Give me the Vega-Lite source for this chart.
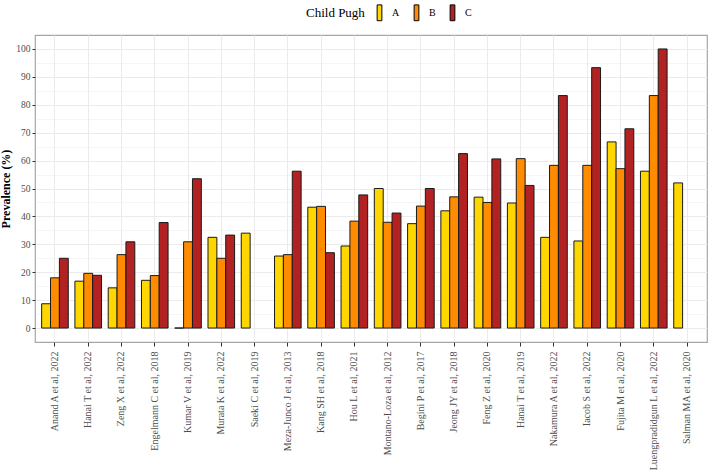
{
  "$schema": "https://vega.github.io/schema/vega-lite/v6.json",
  "width": 672,
  "height": 307,
  "autosize": {"type": "none"},
  "padding": {"left": 35, "top": 35, "right": 1, "bottom": 129},
  "background": "white",
  "config": {
    "font": "Liberation Serif",
    "view": {"stroke": "#A6A6A6", "strokeWidth": 1.2}
  },
  "data": {
    "values": [
      {"study": "Anand A et al, 2022", "grade": "A", "value": 8.7},
      {"study": "Anand A et al, 2022", "grade": "B", "value": 18.0},
      {"study": "Anand A et al, 2022", "grade": "C", "value": 25.0},
      {"study": "Hanai T et al, 2022", "grade": "A", "value": 16.8},
      {"study": "Hanai T et al, 2022", "grade": "B", "value": 19.6},
      {"study": "Hanai T et al, 2022", "grade": "C", "value": 18.9},
      {"study": "Zeng X et al, 2022", "grade": "A", "value": 14.4},
      {"study": "Zeng X et al, 2022", "grade": "B", "value": 26.3},
      {"study": "Zeng X et al, 2022", "grade": "C", "value": 30.9},
      {"study": "Engelmann C et al, 2018", "grade": "A", "value": 17.1},
      {"study": "Engelmann C et al, 2018", "grade": "B", "value": 18.8},
      {"study": "Engelmann C et al, 2018", "grade": "C", "value": 37.8},
      {"study": "Kumar V et al, 2019", "grade": "A", "value": 0},
      {"study": "Kumar V et al, 2019", "grade": "B", "value": 30.9},
      {"study": "Kumar V et al, 2019", "grade": "C", "value": 53.5},
      {"study": "Murata K et al, 2022", "grade": "A", "value": 32.5},
      {"study": "Murata K et al, 2022", "grade": "B", "value": 25.0},
      {"study": "Murata K et al, 2022", "grade": "C", "value": 33.3},
      {"study": "Saeki C et al, 2019", "grade": "A", "value": 34.0},
      {"study": "Meza-Junco J et al, 2013", "grade": "A", "value": 25.8},
      {"study": "Meza-Junco J et al, 2013", "grade": "B", "value": 26.3},
      {"study": "Meza-Junco J et al, 2013", "grade": "C", "value": 56.2},
      {"study": "Kang SH et al, 2018", "grade": "A", "value": 43.3},
      {"study": "Kang SH et al, 2018", "grade": "B", "value": 43.6},
      {"study": "Kang SH et al, 2018", "grade": "C", "value": 27.0},
      {"study": "Hou L et al, 2021", "grade": "A", "value": 29.4},
      {"study": "Hou L et al, 2021", "grade": "B", "value": 38.3},
      {"study": "Hou L et al, 2021", "grade": "C", "value": 47.7},
      {"study": "Montano-Loza et al, 2012", "grade": "A", "value": 50.0},
      {"study": "Montano-Loza et al, 2012", "grade": "B", "value": 37.9},
      {"study": "Montano-Loza et al, 2012", "grade": "C", "value": 41.2},
      {"study": "Begini P et al, 2017", "grade": "A", "value": 37.4},
      {"study": "Begini P et al, 2017", "grade": "B", "value": 43.7},
      {"study": "Begini P et al, 2017", "grade": "C", "value": 50.0},
      {"study": "Jeong JY et al, 2018", "grade": "A", "value": 42.0},
      {"study": "Jeong JY et al, 2018", "grade": "B", "value": 47.0},
      {"study": "Jeong JY et al, 2018", "grade": "C", "value": 62.5},
      {"study": "Feng Z et al, 2020", "grade": "A", "value": 46.9},
      {"study": "Feng Z et al, 2020", "grade": "B", "value": 45.0},
      {"study": "Feng Z et al, 2020", "grade": "C", "value": 60.6},
      {"study": "Hanai T et al, 2019", "grade": "A", "value": 44.8},
      {"study": "Hanai T et al, 2019", "grade": "B", "value": 60.7},
      {"study": "Hanai T et al, 2019", "grade": "C", "value": 51.1},
      {"study": "Nakamura A et al, 2022", "grade": "A", "value": 32.5},
      {"study": "Nakamura A et al, 2022", "grade": "B", "value": 58.3},
      {"study": "Nakamura A et al, 2022", "grade": "C", "value": 83.3},
      {"study": "Iacob S et al, 2022", "grade": "A", "value": 31.2},
      {"study": "Iacob S et al, 2022", "grade": "B", "value": 58.3},
      {"study": "Iacob S et al, 2022", "grade": "C", "value": 93.3},
      {"study": "Fujita M et al, 2020", "grade": "A", "value": 66.7},
      {"study": "Fujita M et al, 2020", "grade": "B", "value": 57.1},
      {"study": "Fujita M et al, 2020", "grade": "C", "value": 71.4},
      {"study": "Luengpradidgun L et al, 2022", "grade": "A", "value": 56.2},
      {"study": "Luengpradidgun L et al, 2022", "grade": "B", "value": 83.3},
      {"study": "Luengpradidgun L et al, 2022", "grade": "C", "value": 100},
      {"study": "Salman MA et al, 2020", "grade": "A", "value": 52.0}
    ]
  },
  "mark": {"type": "bar", "stroke": "#1a1a1a", "strokeWidth": 1},
  "encoding": {
    "x": {
      "field": "study",
      "type": "nominal",
      "sort": null,
      "scale": {"paddingInner": 0, "paddingOuter": 0.1},
      "axis": {
        "title": null,
        "labelAngle": -90,
        "labelAlign": "right",
        "labelBaseline": "middle",
        "labelFontSize": 10,
        "labelColor": "#4D4D4D",
        "labelPadding": 5,
        "bandPosition": 0.5,
        "grid": true,
        "gridColor": "#EBEBEB",
        "gridWidth": 1,
        "domain": false,
        "tickColor": "#333333",
        "tickSize": 4
      }
    },
    "xOffset": {
      "field": "grade",
      "type": "nominal",
      "scale": {"domain": ["A", "B", "C"], "paddingInner": 0, "paddingOuter": 0.375}
    },
    "y": {
      "field": "value",
      "type": "quantitative",
      "scale": {"domain": [-5, 105], "nice": false, "zero": false},
      "axis": {
        "title": "Prevalence (%)",
        "titleFontSize": 12,
        "titleFontWeight": "bold",
        "titleColor": "#000000",
        "titlePadding": 3,
        "values": [0, 5, 10, 15, 20, 25, 30, 35, 40, 45, 50, 55, 60, 65, 70, 75, 80, 85, 90, 95, 100],
        "labelExpr": "datum.value % 10 === 0 ? datum.label : ''",
        "labelFontSize": 9.5,
        "labelColor": "#4D4D4D",
        "labelPadding": 2,
        "domain": false,
        "tickSize": 3,
        "tickColor": {"condition": {"test": "datum.value % 10 === 0", "value": "#333333"}, "value": "rgba(0,0,0,0)"},
        "grid": true,
        "gridColor": "#EBEBEB",
        "gridWidth": {"condition": {"test": "datum.value % 10 === 0", "value": 1}, "value": 0.5}
      }
    },
    "fill": {
      "field": "grade",
      "type": "nominal",
      "scale": {"domain": ["A", "B", "C"], "range": ["#FFD700", "#FF8C00", "#B22222"]},
      "legend": {
        "title": "Child Pugh",
        "orient": "none",
        "legendX": 271,
        "legendY": -31,
        "direction": "horizontal",
        "titleOrient": "left",
        "titleFontSize": 13,
        "titleFontWeight": "normal",
        "titleColor": "#000000",
        "titleBaseline": "middle",
        "titlePadding": 6,
        "labelFontSize": 10,
        "labelColor": "#000000",
        "labelOffset": 4,
        "columnPadding": 8,
        "symbolType": "M-0.3,-1L0.3,-1L0.3,1L-0.3,1Z",
        "symbolSize": 250,
        "symbolStrokeColor": "#000000",
        "symbolStrokeWidth": 1,
        "symbolOpacity": 1
      }
    }
  }
}
